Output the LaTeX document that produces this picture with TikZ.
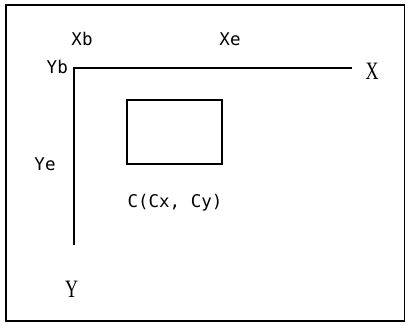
\documentclass[tikz,border=0pt]{standalone}
\usepackage{fontspec}
\newfontfamily\lblfont{DejaVu Sans Mono}
\newfontfamily\axfont{Liberation Serif}
\usetikzlibrary{positioning}

\begin{document}
\begin{tikzpicture}[x=1pt,y=-1pt]
\useasboundingbox (0,0) rectangle (406,325);
\draw[line width=1.1pt] (6,5) rectangle (404.5,321);
\coordinate (org) at (74,68);
\coordinate (xend) at (352,68);
\coordinate (yend) at (74,245);
\draw[line width=1.3pt] (xend)--(org)--(yend);
\node[draw,line width=1.1pt,minimum width=95pt,minimum height=64pt,inner sep=0pt] (cbox) at (174.5,132) {};
\node[font=\lblfont\fontsize{17.5}{20}\selectfont,inner sep=0pt] (xb) at (82,39) {Xb};
\node[font=\lblfont\fontsize{17.5}{20}\selectfont,inner sep=0pt] (xe) at (230,39) {Xe};
\node[font=\lblfont\fontsize{17.5}{20}\selectfont,inner sep=0pt,anchor=east] (yb) at (68,67) {Yb};
\node[font=\lblfont\fontsize{17.5}{20}\selectfont,inner sep=0pt] (ye) at (45,164) {Ye};
\node[font=\lblfont\fontsize{17.5}{20}\selectfont,inner sep=0pt] (clbl) at (175,203) {C(Cx, Cy)};
\node[font=\axfont\fontsize{25}{27}\selectfont,inner sep=0pt] (ylbl) at (71.5,289) {\scalebox{0.72}[1]{Y}};
\node[font=\axfont\fontsize{25}{27}\selectfont,inner sep=0pt] (xlbl) at (372,71) {\scalebox{0.72}[1]{X}};
\end{tikzpicture}
\end{document}
